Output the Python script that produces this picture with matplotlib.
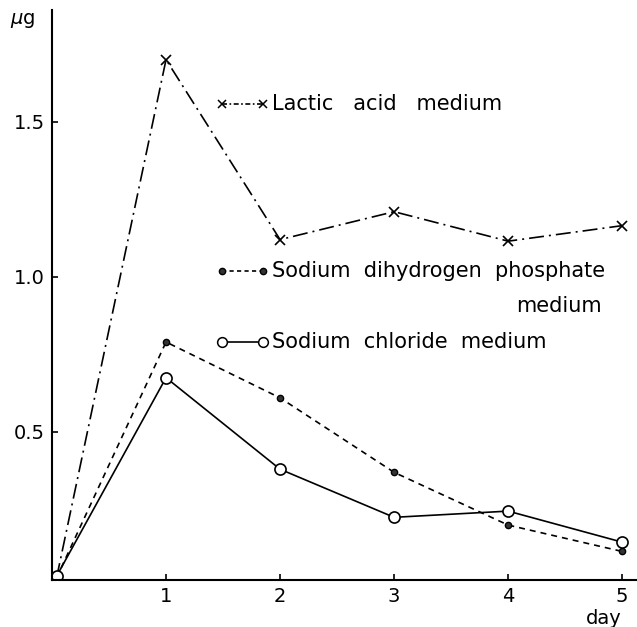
import matplotlib
matplotlib.use("Agg")
import matplotlib.pyplot as plt

days = [0.04, 1, 2, 3, 4, 5]
lactic = [0.03, 1.70, 1.12, 1.21, 1.115, 1.165]
phosphate = [0.03, 0.79, 0.61, 0.37, 0.20, 0.115]
chloride = [0.035, 0.675, 0.38, 0.225, 0.245, 0.145]

xticks = [1, 2, 3, 4, 5]
yticks = [0.5, 1.0, 1.5]
ytick_labels = ["0.5", "1.0", "1.5"]

plt.rcParams['font.family'] = ['DejaVu Sans']

W, H = 637, 627
fig = plt.figure(figsize=(W / 100, H / 100), dpi=100)
left, right, bottom, top = 52, 637, 580, 10
ax = fig.add_axes([left / W, 1 - bottom / H, (right - left) / W, (bottom - top) / H])

lw = 1.2
lactic_style = (0, (9, 3, 1.2, 3))
phos_style = (0, (3.6, 3))

ax.plot(days, lactic, color='black', lw=lw, linestyle=lactic_style,
        marker='x', ms=7, mew=1.2)
ax.plot(days, phosphate, color='black', lw=lw, linestyle=phos_style,
        marker='o', ms=4.5, mfc='#333333', mec='black')
ax.plot(days, chloride, color='black', lw=lw, linestyle='-',
        marker='o', ms=8, mfc='white', mec='black', mew=1.2)

ax.set_xlim(0, 5.13)
ax.set_ylim(0.023, 1.86)
ax.set_xticks(xticks)
ax.set_xticklabels([str(d) for d in xticks])
ax.set_yticks(yticks)
ax.set_yticklabels(ytick_labels)
ax.tick_params(direction='in', length=4, width=1.2, labelsize=14, pad=5)
ax.spines['top'].set_visible(False)
ax.spines['right'].set_visible(False)
ax.spines['left'].set_linewidth(1.5)
ax.spines['bottom'].set_linewidth(1.5)

fig.text(10 / W, 1 - 21 / H, r"$\mu$g", fontsize=14, va='center', ha='left')
fig.text(604 / W, 1 - 618 / H, "day", fontsize=14, va='center', ha='center')


# hand-drawn style legend entries (pixel positions -> axes fraction)
def ax_xy(px, py):
    return (px - left) / (right - left), (bottom - py) / (bottom - top)


def legend_entry(y, style, text, **mk):
    x0, yy = ax_xy(222, y)
    x1, _ = ax_xy(263, y)
    ax.plot([x0, x1], [yy, yy], transform=ax.transAxes, color='black',
            lw=lw, linestyle=style, clip_on=False, **mk)
    tx, _ = ax_xy(272, y)
    ax.text(tx, yy, text, transform=ax.transAxes, fontsize=15,
            va='center', ha='left')


legend_entry(104, (0, (3, 1.5, 1, 1.5)), "Lactic   acid   medium",
             marker='x', ms=6, mew=1.1)
legend_entry(271, (0, (2.5, 2)), "Sodium  dihydrogen  phosphate",
             marker='o', ms=4.5, mfc='#333333', mec='black')
mx, my = ax_xy(602, 306)
ax.text(mx, my, "medium", transform=ax.transAxes, fontsize=15,
        va='center', ha='right')
legend_entry(342, '-', "Sodium  chloride  medium",
             marker='o', ms=7, mfc='white', mec='black', mew=1.1)

fig.savefig("out.png", dpi=100)
